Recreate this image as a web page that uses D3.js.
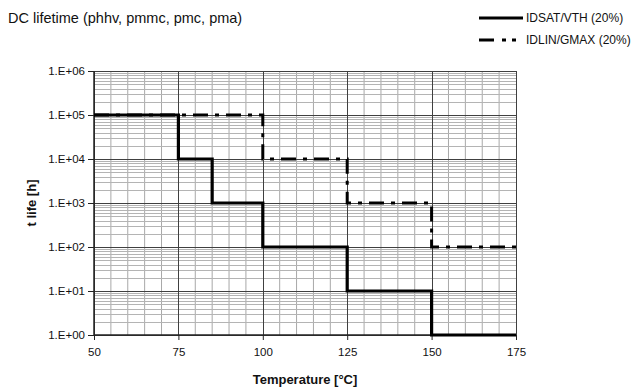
<!DOCTYPE html>
<html>
<head>
<meta charset="utf-8">
<script src="https://cdn.jsdelivr.net/npm/d3@7/dist/d3.min.js"></script>
<style>
  html, body { margin: 0; padding: 0; background: #fff; }
  svg { display: block; font-family: "Liberation Sans", Arial, sans-serif; }
</style>
</head>
<body>
<svg id="chart" width="640" height="387"></svg>
<script>
// Step data: temperature breakpoints and lifetime in hours
const tempTicks = [50, 75, 100, 125, 150, 175];
const lifeTicks = [1e0, 1e1, 1e2, 1e3, 1e4, 1e5, 1e6];
const lifeTickLabels = ["1.E+00", "1.E+01", "1.E+02", "1.E+03", "1.E+04", "1.E+05", "1.E+06"];

const idsatTemps = [50, 75, 85, 100, 125, 150, 175];
const idsatLife  = [1e5, 1e4, 1e3, 1e2, 1e1, 1e0];

const idlinTemps = [50, 100, 125, 150, 175];
const idlinLife  = [1e5, 1e4, 1e3, 1e2];

const seriesNames = ["IDSAT/VTH (20%)", "IDLIN/GMAX (20%)"];

const svg = d3.select("#chart");
const plot = { left: 94, right: 516, top: 71, bottom: 335 };

const x = d3.scaleLinear().domain([50, 175]).range([plot.left, plot.right]);
const y = d3.scaleLog().domain([1, 1e6]).range([plot.bottom, plot.top]);

// Minor grid
const g = svg.append("g");
const minorX = d3.range(50, 176, 5).filter(v => v % 25 !== 0);
g.selectAll(".mx").data(minorX).enter().append("line")
  .attr("x1", d => x(d)).attr("x2", d => x(d))
  .attr("y1", plot.top).attr("y2", plot.bottom)
  .attr("stroke", "#a8a8a8").attr("stroke-width", 1);

const minorY = [];
for (let e = 0; e < 6; e++) for (let m = 2; m <= 9; m++) minorY.push(m * Math.pow(10, e));
g.selectAll(".my").data(minorY).enter().append("line")
  .attr("x1", plot.left).attr("x2", plot.right)
  .attr("y1", d => Math.round(y(d)) + 0.5).attr("y2", d => Math.round(y(d)) + 0.5)
  .attr("stroke", "#b4b4b4").attr("stroke-width", 1);

// Major grid
g.selectAll(".Mx").data(tempTicks).enter().append("line")
  .attr("x1", d => Math.round(x(d)) + 0.5).attr("x2", d => Math.round(x(d)) + 0.5)
  .attr("y1", plot.top).attr("y2", plot.bottom)
  .attr("stroke", "#404040").attr("stroke-width", 1);
g.selectAll(".My").data(lifeTicks).enter().append("line")
  .attr("x1", plot.left).attr("x2", plot.right)
  .attr("y1", d => Math.round(y(d)) + 0.5).attr("y2", d => Math.round(y(d)) + 0.5)
  .attr("stroke", "#404040").attr("stroke-width", 1);

// Axes
const xAxis = d3.axisBottom(x).tickValues(tempTicks).tickSize(5).tickPadding(8);
const yAxis = d3.axisLeft(y).tickValues(lifeTicks).tickSize(6).tickPadding(3)
  .tickFormat((d, i) => lifeTickLabels[i]);

const gx = svg.append("g").attr("transform", `translate(0,${plot.bottom})`).call(xAxis);
const gy = svg.append("g").attr("transform", `translate(${plot.left},0)`).call(yAxis);
[gx, gy].forEach(a => {
  a.select(".domain").attr("stroke", "#222").attr("stroke-width", 1.5);
  a.selectAll(".tick line").attr("stroke", "#222");
  a.selectAll(".tick text").attr("fill", "#111").attr("font-size", 11.5)
    .attr("font-family", "Liberation Sans, Arial, sans-serif");
});
gy.select(".domain").attr("d", `M-0,${plot.top}V${plot.bottom}`);
gx.select(".domain").attr("d", `M${plot.left},0H${plot.right}`);

// Step line builder
function stepPoints(temps, life) {
  const pts = [];
  life.forEach((v, i) => {
    pts.push([temps[i], v]);
    pts.push([temps[i + 1], v]);
  });
  return pts;
}
const line = d3.line().x(d => x(d[0])).y(d => y(d[1]));

svg.append("path")
  .datum(stepPoints(idlinTemps, idlinLife))
  .attr("d", line)
  .attr("fill", "none").attr("stroke", "#000").attr("stroke-width", 3)
  .attr("stroke-dasharray", "15,7,4,7");

svg.append("path")
  .datum(stepPoints(idsatTemps, idsatLife))
  .attr("d", line)
  .attr("fill", "none").attr("stroke", "#000").attr("stroke-width", 3.2);

// Axis titles
svg.append("text").attr("x", 305).attr("y", 384).attr("text-anchor", "middle")
  .attr("font-weight", "bold").attr("font-size", 13).attr("fill", "#111")
  .text("Temperature [°C]");
svg.append("text").attr("transform", "translate(36,203) rotate(-90)")
  .attr("text-anchor", "middle").attr("font-weight", "bold").attr("font-size", 13)
  .attr("fill", "#111").text("t life [h]");

// Title
svg.append("text").attr("x", 8).attr("y", 23).attr("font-size", 14.5).attr("fill", "#111")
  .text("DC lifetime (phhv, pmmc, pmc, pma)");

// Legend
const legend = svg.append("g");
const legendY = [18, 40];
legend.selectAll("line").data(seriesNames).enter().append("line")
  .attr("x1", 479).attr("x2", 523)
  .attr("y1", (d, i) => legendY[i]).attr("y2", (d, i) => legendY[i])
  .attr("stroke", "#000").attr("stroke-width", 3)
  .attr("stroke-dasharray", (d, i) => i === 0 ? null : "15,8,4,6,4");
legend.selectAll("text").data(seriesNames).enter().append("text")
  .attr("x", 526).attr("y", (d, i) => legendY[i] + 4)
  .attr("font-size", 12).attr("fill", "#111")
  .text(d => d);
</script>
</body>
</html>
